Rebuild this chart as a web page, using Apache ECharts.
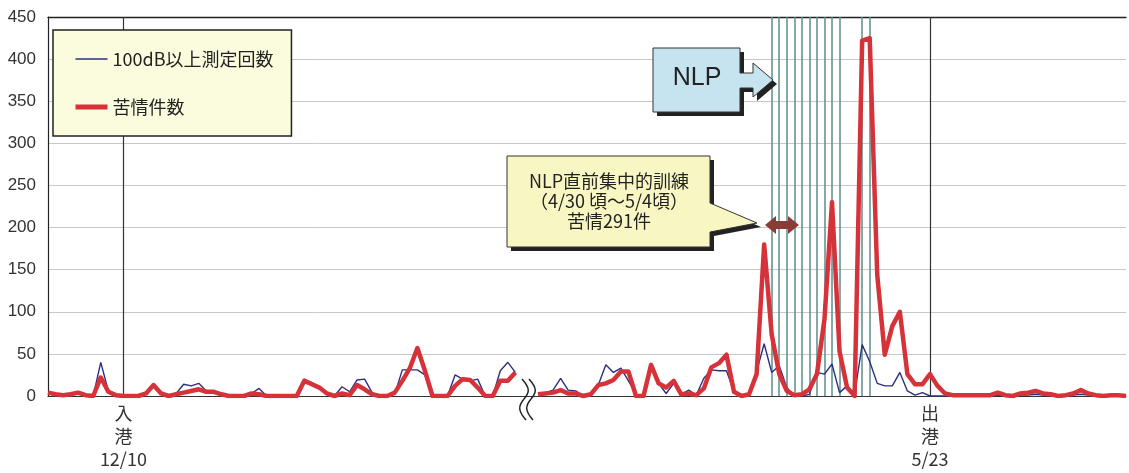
<!DOCTYPE html>
<html><head><meta charset="utf-8">
<script src="https://cdn.jsdelivr.net/npm/echarts@6/dist/echarts.min.js"></script>
<style>html,body{margin:0;padding:0;background:#fff}#c{width:1129px;height:473px}</style>
</head><body><div id="c"></div>
<script>
// ---- data (left segment: Dec-Jan, right segment: Apr-Jun) ----
const noiseLeft = [3,2,1,2,4,1,0,40,6,1, 0,0,0,3,12,3,0,3,14,12, 15,6,4,2,0,0,0,3,9,0,
  0,0,0,0,20,16,11,3,0,11, 5,19,20,4,0,0,2,31,31,31, 25,0,0,0,25,20,18,20,0,0, 30,40,28];
const complaintsLeft = [4,2,1,2,4,1,0,22,5,1, 0,0,0,3,13,3,0,2,4,6, 8,5,5,2,0,0,0,3,2,0,
  0,0,0,0,18,14,10,3,0,3, 1,13,8,2,0,0,4,18,33,57, 30,0,0,0,12,20,19,10,0,0, 18,18,28];
const noiseRight = [2,4,7,21,7,6,0,2,13,37, 28,33,18,2,0,35,15,3,15,2, 7,1,21,31,30,30,5,0,2,29,
  62,28,36,10,0,0,2,28,26,38, 4,12,2,61,41,15,12,12,28,6, 1,4,0,0,0,0,0,0,0,0,
  0,1,0,0,1,1,2,1,0,0, 0,1,2,1,0,0,0,0,0];
const complaintsRight = [2,3,4,7,3,3,0,2,13,15, 19,29,29,0,0,37,15,10,18,2, 3,1,9,34,39,49,5,0,2,26,
  180,73,26,6,1,2,8,26,91,230, 53,10,0,422,425,144,49,83,100,26, 14,14,26,12,3,1,1,1,1,1,
  1,4,1,0,3,4,6,3,2,0, 1,3,7,3,1,0,1,1,0];
const gapCount = 2;                       // break between the two periods
const portLeftIndex = 10;                 // 入港 (left segment position)
const portRightIndex = 52;                // 出港 (right segment position)
const portLabels = ['入\n港\n12/10', '出\n港\n5/23'];
const nlpDaysRight = [31,32,33,34,35,36,37,38,39,40,43,44];
const seriesNames = ['100dB以上測定回数', '苦情件数'];

// ---- build ----
const gap = new Array(gapCount).fill(null);
const noise = noiseLeft.concat(gap, noiseRight);
const complaints = complaintsLeft.concat(gap, complaintsRight);
const offR = noiseLeft.length + gapCount;
const cats = noise.map((_, i) => String(i));
const tickLabels = cats.map(() => '');
const inIdx = portLeftIndex, outIdx = offR + portRightIndex;
tickLabels[inIdx] = portLabels[0];
tickLabels[outIdx] = portLabels[1];

const jp = '"Noto Sans CJK JP", "Noto Sans", sans-serif';
const chart = echarts.init(document.getElementById('c'), null, {renderer: 'canvas'});
function wave(dx) {
  return [
    {type: 'bezierCurve', z: 22, shape: {x1: 522 + dx, y1: 379, cpx1: 530 + dx, cpy1: 388, cpx2: 530 + dx, cpy2: 392, x2: 524 + dx, y2: 399},
      style: {fill: null, stroke: '#222', lineWidth: 1.5}},
    {type: 'bezierCurve', z: 22, shape: {x1: 524 + dx, y1: 399, cpx1: 518 + dx, cpy1: 406, cpx2: 518 + dx, cpy2: 411, x2: 526 + dx, y2: 420},
      style: {fill: null, stroke: '#222', lineWidth: 1.5}}
  ];
}
chart.setOption({
  animation: false,
  backgroundColor: '#fff',
  grid: {left: 48, right: 0, top: 17, bottom: 77},
  legend: {
    orient: 'vertical', left: 53, top: 30,
    backgroundColor: '#fbfbdd', borderColor: '#222', borderWidth: 1.5, borderRadius: 0,
    padding: [20, 18, 20, 20], itemGap: 30, itemWidth: 32, itemHeight: 14,
    itemStyle: {opacity: 0},
    textStyle: {fontSize: 18, fontFamily: jp, color: '#222'},
    data: [
      {name: seriesNames[0], lineStyle: {width: 1.5}},
      {name: seriesNames[1], lineStyle: {width: 5}}
    ]
  },
  xAxis: [{
    type: 'category', data: cats, boundaryGap: false,
    axisLine: {lineStyle: {color: '#333', width: 1.2}},
    axisTick: {show: false},
    splitLine: {show: false},
    axisLabel: {interval: 0, formatter: (v, i) => tickLabels[i], fontSize: 18, lineHeight: 23,
      color: '#333', fontFamily: jp, margin: 6}
  }, {
    type: 'category', data: cats, boundaryGap: false, position: 'top',
    axisLine: {lineStyle: {color: '#222', width: 1.3}},
    axisTick: {show: false}, axisLabel: {show: false}
  }],
  yAxis: {
    type: 'value', min: 0, max: 450, interval: 50,
    axisLine: {show: true, lineStyle: {color: '#222', width: 1.2}},
    axisTick: {show: false},
    splitLine: {lineStyle: {color: '#c8c8c8', width: 1}},
    axisLabel: {fontSize: 17, color: '#333', margin: 12, fontFamily: '"Liberation Sans", Arial, sans-serif'}
  },
  series: [{
    name: seriesNames[0], type: 'line', data: noise, symbol: 'none', connectNulls: false, z: 3,
    lineStyle: {color: '#2c2f80', width: 1.4}, itemStyle: {color: '#2c2f80'},
    markLine: {
      silent: true, symbol: 'none', z: 1, label: {show: false},
      data: nlpDaysRight.map(p => ({xAxis: offR + p, lineStyle: {color: '#5b8d8a', width: 1.5, type: 'solid'}}))
        .concat([inIdx, outIdx].map(p => ({xAxis: p, lineStyle: {color: '#333', width: 1.2, type: 'solid'}})))
    }
  }, {
    name: seriesNames[1], type: 'line', data: complaints, symbol: 'none', connectNulls: false, z: 10,
    lineStyle: {color: '#d6323a', width: 4.5, join: 'round'}, itemStyle: {color: '#d6323a'}
  }],
  graphic: [
    // NLP arrow box
    {type: 'polygon', z: 20, shape: {points: [[657,52],[744,52],[744,77],[757,77],[757,67],[777,84],[757,101],[757,92],[744,92],[744,116],[657,116]]},
      style: {fill: '#222'}},
    {type: 'polygon', z: 21, shape: {points: [[653,48],[740,48],[740,73],[753,73],[753,63],[773,80],[753,97],[753,88],[740,88],[740,112],[653,112]]},
      style: {fill: '#c6e3f0', stroke: '#333', lineWidth: 1}},
    {type: 'text', z: 22, x: 697, y: 78, style: {text: 'NLP', fontSize: 25, fill: '#222', align: 'center', verticalAlign: 'middle',
      fontFamily: '"Liberation Sans", Arial, sans-serif'}},
    // speech box
    {type: 'polygon', z: 20, shape: {points: [[511,160],[714,160],[714,207],[761,227],[714,236],[714,251],[511,251]]},
      style: {fill: '#222'}},
    {type: 'polygon', z: 21, shape: {points: [[507,156],[710,156],[710,203],[757,223],[710,232],[710,247],[507,247]]},
      style: {fill: '#f8f6c2', stroke: '#333', lineWidth: 1}},
    {type: 'text', z: 22, x: 609, y: 171, style: {text: 'NLP直前集中的訓練\n（4/30 頃～5/4頃）\n苦情291件', align: 'center',
      fontSize: 18, lineHeight: 20, fill: '#222', fontFamily: jp}},
    // double-headed arrow
    {type: 'polygon', z: 22, shape: {points: [[765,225],[776,216],[776,221],[788,221],[788,216],[799,225],[788,234],[788,229],[776,229],[776,234]]},
      style: {fill: '#8b3b36'}}
  ].concat(wave(0), wave(7))
});
</script></body></html>
